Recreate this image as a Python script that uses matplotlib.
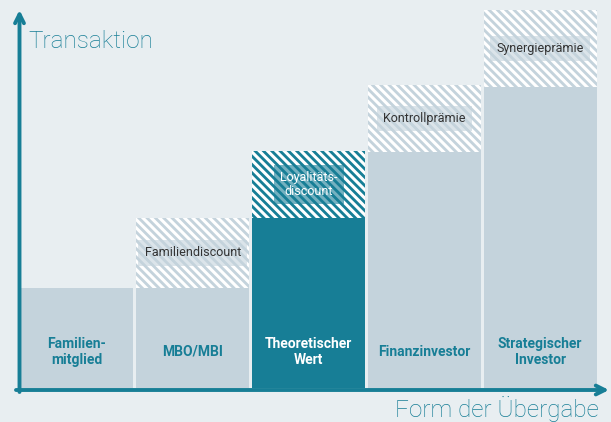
import matplotlib
matplotlib.use("Agg")
import matplotlib.pyplot as plt

# data (arbitrary units)
categories = ["Familien-\nmitglied", "MBO/MBI", "Theoretischer\nWert", "Finanzinvestor", "Strategischer\nInvestor"]
base_values = [100, 100, 170, 236, 301]
adjustments = [0, 70, 67, 67, 77]
adj_labels = ["", "Familiendiscount", "Loyalitäts-\ndiscount", "Kontrollprämie", "Synergieprämie"]
highlight = 2

bg = "#e8eef1"
light = "#c4d3dc"
teal = "#177e96"
dark = "#333333"
narrow = ["Roboto", "DejaVu Sans"]
thin = ["Roboto", "DejaVu Sans"]

plt.rcParams["hatch.linewidth"] = 2.2

fig = plt.figure(figsize=(6.11, 4.22), dpi=100, facecolor=bg)
ax = fig.add_axes([19 / 611, 34 / 422, 579 / 611, 388 / 422])
ax.set_facecolor(bg)
ax.set_xlim(-0.5, len(categories) - 0.5)
ax.set_ylim(0, 388)
ax.axis("off")

x = range(len(categories))
colors = [teal if i == highlight else light for i in x]
ax.bar(x, base_values, width=0.975, color=colors, linewidth=0)
ax.bar(x, adjustments, bottom=base_values, width=0.975, color=colors,
       edgecolor="white", linewidth=0, hatch="\\\\\\\\")

for i, lab in enumerate(categories):
    ax.text(i, 36, lab, ha="center", va="center", family=narrow, weight="bold",
            fontsize=10, color="white" if i == highlight else teal, linespacing=1.1)

for i, lab in enumerate(adj_labels):
    if not lab:
        continue
    fc = teal if i == highlight else light
    tc = "white" if i == highlight else dark
    ax.text(i, base_values[i] + adjustments[i] / 2, lab, ha="center", va="center",
            family=narrow, fontsize=9, color=tc, linespacing=1.1,
            bbox=dict(boxstyle="square,pad=0.5", fc=fc, ec="none", alpha=0.6))

# axis arrows
arrow = dict(arrowstyle="->", lw=2.8, color=teal, mutation_scale=16, shrinkA=0, shrinkB=0)
ax.annotate("", xy=(19.5 / 611, 1 - 10 / 422), xytext=(19.5 / 611, 1 - 392 / 422),
            xycoords="figure fraction", textcoords="figure fraction", arrowprops=arrow)
ax.annotate("", xy=(609 / 611, 1 - 390 / 422), xytext=(16 / 611, 1 - 390 / 422),
            xycoords="figure fraction", textcoords="figure fraction", arrowprops=arrow)

fig.text(28 / 611, 1 - 41 / 422, "Transaktion", family=thin, weight="light",
         fontsize=17.5, color=teal, va="center", ha="left")
fig.text(599 / 611, 1 - 409 / 422, "Form der Übergabe", family=thin, weight="light",
         fontsize=17.5, color=teal, va="center", ha="right")

fig.savefig("out.png", dpi=100, facecolor=bg)
